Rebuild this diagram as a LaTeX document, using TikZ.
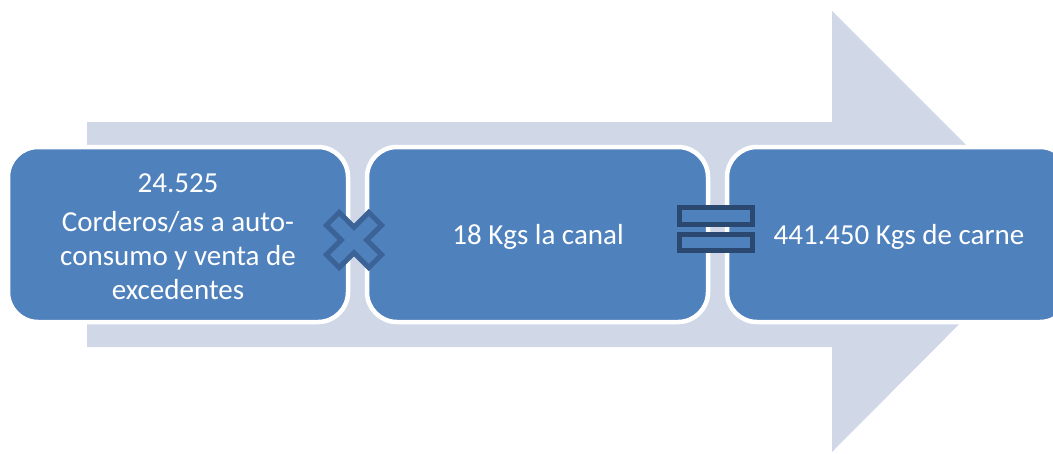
\documentclass[tikz,border=0pt]{standalone}
\usepackage{fontspec}
\setmainfont{Carlito}
\definecolor{boxblue}{HTML}{4F81BD}
\definecolor{arrowgray}{HTML}{D0D8E8}
\definecolor{crossline}{HTML}{3C6398}
\definecolor{eqline}{HTML}{2B4870}
\tikzset{
  stagebox/.style={draw=white, line width=4.5pt, fill=boxblue, rounded corners=30pt},
  stagetext/.style={text=white, align=center, font=\fontsize{29}{34}\selectfont, inner sep=0pt},
  opsign/.style={fill=boxblue, line width=5pt, line join=miter},
}
\begin{document}
\begin{tikzpicture}[x=1pt,y=-1pt]
\useasboundingbox (0,0) rectangle (1053,453);
% big background arrow
\fill[arrowgray] (87,122) -- (832,122) -- (832,11) -- (1052,231) -- (832,452) -- (832,347) -- (87,347) -- cycle;
% boxes
\draw[stagebox] (8,147) rectangle (348,322);
\draw[stagebox] (367,147) rectangle (708,322);
\draw[stagebox] (727,147) rectangle (1070,322);
\coordinate (b1) at (178,237);
\coordinate (b2) at (538,237);
\coordinate (b3) at (899,237);
\node[stagetext] (t1a) at (178,183) {24.525};
\node[stagetext] (t1b) at (178,256) {Corderos/as a auto-\\consumo y venta de\\excedentes};
\node[stagetext] (t2) at (b2) {18 Kgs la canal};
\node[stagetext] (t3) at (b3) {441.450 Kgs de carne};
% multiply sign
\begin{scope}[shift={(354,240)}, rotate=45]
\draw[opsign, draw=crossline] (-9,-30) -- (9,-30) -- (9,-9) -- (30,-9) -- (30,9) -- (9,9) -- (9,30) -- (-9,30) -- (-9,9) -- (-30,9) -- (-30,-9) -- (-9,-9) -- cycle;
\end{scope}
% equals sign
\draw[opsign, draw=eqline] (679,207) rectangle (752,224);
\draw[opsign, draw=eqline] (679,234) rectangle (752,250);
\end{tikzpicture}
\end{document}
